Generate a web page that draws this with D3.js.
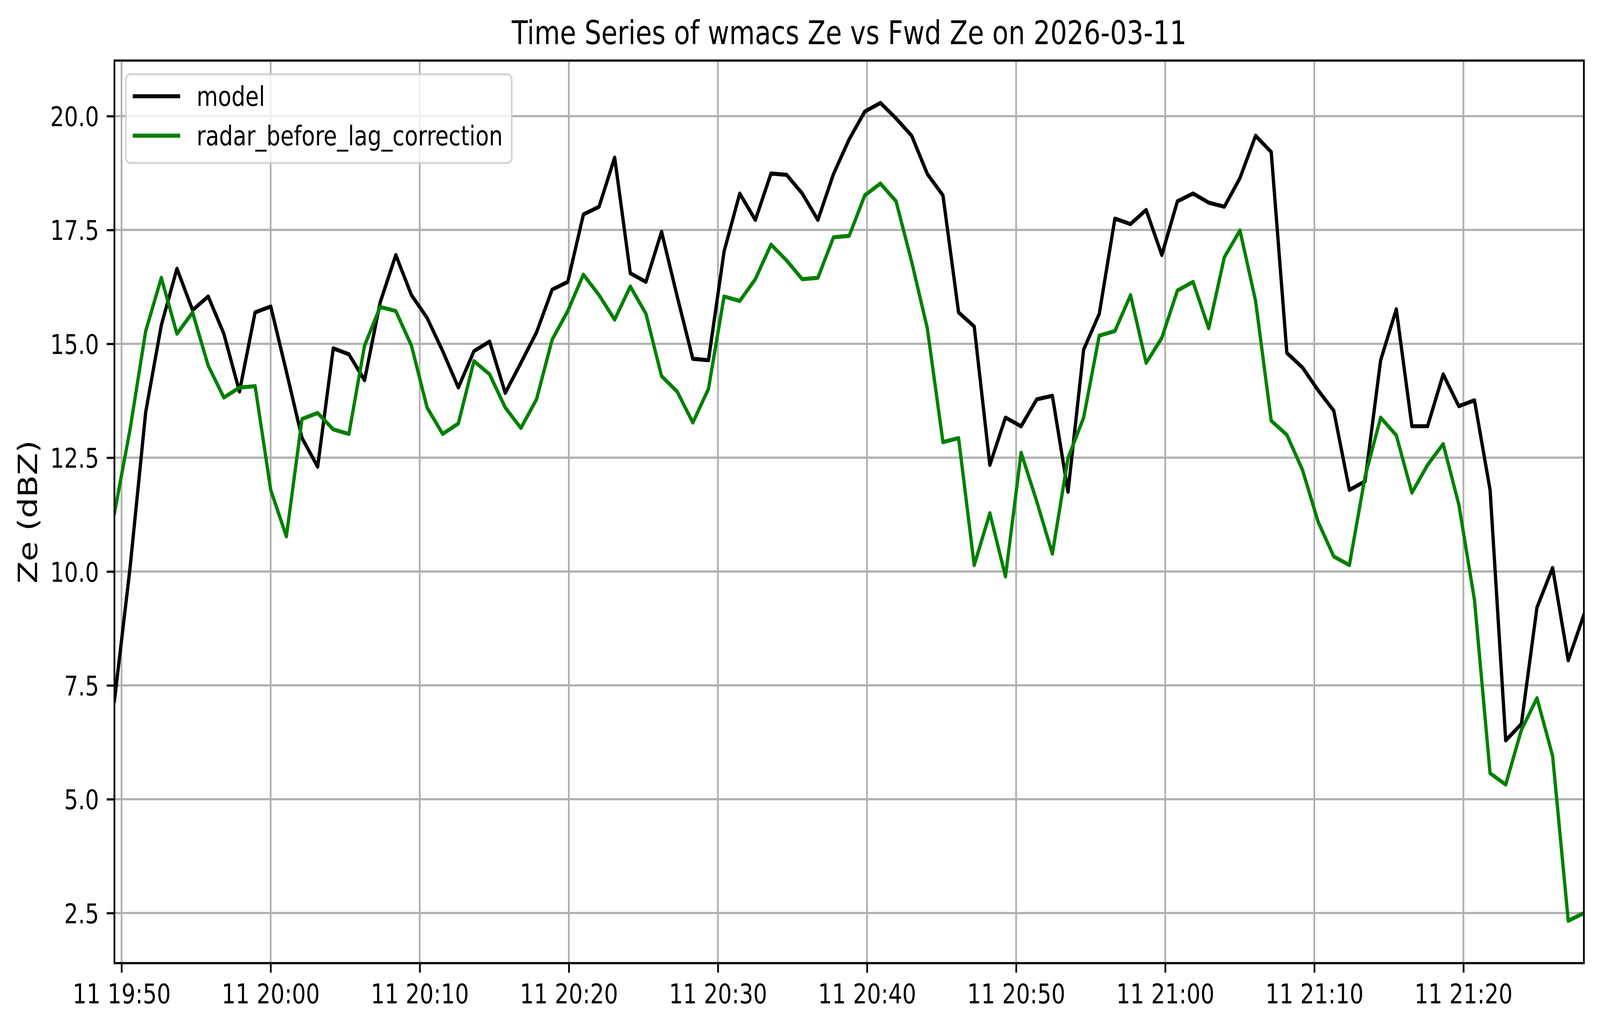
<!DOCTYPE html>
<html>
<head>
<meta charset="utf-8">
<script src="https://cdn.jsdelivr.net/npm/d3@7/dist/d3.min.js"></script>
<style>
  html, body { margin: 0; padding: 0; background: #ffffff; overflow: hidden; width: 100vw; height: 100vh; }
  svg { display: block; width: 100vw; height: 100vh; }
  text { font-family: "DejaVu Sans", sans-serif; fill: #000; }
</style>
</head>
<body>
<script>
// ---------------- DATA ----------------
const chartTitle = "Time Series of wmacs Ze vs Fwd Ze on 2026-03-11";
const yLabel = "Ze (dBZ)";
const seriesNames = ["model", "radar_before_lag_correction"];
const seriesColors = ["#000000", "#008000"];

// sampling: first and last timestamp of the record (UTC, 2026-03-11), evenly sampled
const firstTime = "2026-03-11T19:49:31.4Z";
const lastTime  = "2026-03-11T21:28:04.8Z";

const modelZe = [
  7.16, 10.08, 13.50, 15.41, 16.65, 15.74, 16.04, 15.22, 13.95, 15.69, 15.82, 14.39, 12.93, 12.30, 14.90, 14.77,
  14.20, 15.91, 16.95, 16.07, 15.57, 14.84, 14.04, 14.84, 15.05, 13.92, 14.58, 15.25, 16.19, 16.36, 17.84, 18.01,
  19.09, 16.55, 16.36, 17.46, 16.04, 14.67, 14.64, 17.03, 18.30, 17.72, 18.74, 18.71, 18.30, 17.72, 18.73,
  19.49, 20.10, 20.29, 19.95, 19.57, 18.73, 18.26, 15.69, 15.38, 12.34, 13.38, 13.19, 13.78, 13.86, 11.75, 14.87,
  15.66, 17.75, 17.63, 17.94, 16.95, 18.13, 18.30, 18.10, 18.01, 18.64, 19.57, 19.21, 14.80, 14.48, 13.98,
  13.53, 11.79, 11.98, 14.64, 15.76, 13.19, 13.19, 14.33, 13.63, 13.76, 11.79, 6.29, 6.65, 9.21, 10.08, 8.05,
  9.05
];

const radarZe = [
  11.28, 13.12, 15.28, 16.45, 15.22, 15.69, 14.52, 13.82, 14.04, 14.07, 11.79, 10.77, 13.35, 13.48, 13.12, 13.02,
  14.96, 15.81, 15.72, 14.96, 13.60, 13.02, 13.25, 14.62, 14.33, 13.60, 13.15, 13.78, 15.09, 15.72, 16.52, 16.07,
  15.53, 16.26, 15.66, 14.29, 13.95, 13.27, 14.01, 16.04, 15.94, 16.42, 17.18, 16.83, 16.42, 16.45, 17.34,
  17.37, 18.26, 18.52, 18.13, 16.80, 15.34, 12.84, 12.93, 10.14, 11.28, 9.89, 12.61, 11.54, 10.39, 12.49, 13.38,
  15.18, 15.28, 16.07, 14.58, 15.13, 16.17, 16.36, 15.34, 16.90, 17.49, 15.94, 13.31, 13.00, 12.23, 11.09,
  10.33, 10.14, 12.08, 13.38, 12.99, 11.73, 12.34, 12.80, 11.47, 9.38, 5.57, 5.32, 6.52, 7.22, 5.95, 2.33,
  2.50
];

const yTicks = [2.5, 5.0, 7.5, 10.0, 12.5, 15.0, 17.5, 20.0];
const yTickLabels = ["2.5", "5.0", "7.5", "10.0", "12.5", "15.0", "17.5", "20.0"];
const xTickTimes = ["2026-03-11T19:50:00Z", "2026-03-11T20:00:00Z", "2026-03-11T20:10:00Z", "2026-03-11T20:20:00Z",
                    "2026-03-11T20:30:00Z", "2026-03-11T20:40:00Z", "2026-03-11T20:50:00Z", "2026-03-11T21:00:00Z",
                    "2026-03-11T21:10:00Z", "2026-03-11T21:20:00Z"];
const xTickLabels = ["11 19:50", "11 20:00", "11 20:10", "11 20:20", "11 20:30",
                     "11 20:40", "11 20:50", "11 21:00", "11 21:10", "11 21:20"];
const yDomain = [1.40, 21.22];

// ---------------- LAYOUT ----------------
const W = 5062, H = 2631;
const plot = { left: 362, right: 5011, top: 155, bottom: 2465 };
const PT = 500 / 72;            // px per point (figure at 500 dpi)
const fs = 10 * PT;             // 10pt
const fsBig = 12 * PT;          // 12pt
const lineW = 1.5 * PT;
const thinW = 0.8 * PT;
const tickLen = 3.5 * PT;
const tickPad = 3.5 * PT;

const t0 = new Date(firstTime), t1 = new Date(lastTime);
const n = modelZe.length;
const times = d3.range(n).map(i => new Date(+t0 + (t1 - t0) * i / (n - 1)));

const x = d3.scaleUtc().domain([t0, t1]).range([plot.left, plot.right]);
const y = d3.scaleLinear().domain(yDomain).range([plot.bottom, plot.top]);

const svg = d3.select("body").append("svg")
  .attr("viewBox", `0 0 ${W} ${H}`)
  .attr("preserveAspectRatio", "none");
svg.append("rect").attr("width", W).attr("height", H).attr("fill", "#fff");

const defs = svg.append("defs");
defs.append("clipPath").attr("id", "plotclip").append("rect")
  .attr("x", plot.left).attr("y", plot.top)
  .attr("width", plot.right - plot.left).attr("height", plot.bottom - plot.top);

// grid
const xTicksD = xTickTimes.map(s => new Date(s));
const grid = svg.append("g").attr("clip-path", "url(#plotclip)");
grid.selectAll("line.gx").data(xTicksD).enter().append("line")
  .attr("x1", d => x(d)).attr("x2", d => x(d))
  .attr("y1", plot.top).attr("y2", plot.bottom)
  .attr("stroke", "#b0b0b0").attr("stroke-width", thinW);
grid.selectAll("line.gy").data(yTicks).enter().append("line")
  .attr("x1", plot.left).attr("x2", plot.right)
  .attr("y1", d => y(d)).attr("y2", d => y(d))
  .attr("stroke", "#b0b0b0").attr("stroke-width", thinW);

// lines
const lineGen = d3.line().x((d, i) => x(times[i])).y(d => y(d));
const lines = svg.append("g").attr("clip-path", "url(#plotclip)");
[modelZe, radarZe].forEach((vals, k) => {
  lines.append("path").datum(vals)
    .attr("d", lineGen)
    .attr("fill", "none")
    .attr("stroke", seriesColors[k])
    .attr("stroke-width", lineW)
    .attr("stroke-linejoin", "round")
    .attr("stroke-linecap", "square");
});

// axes
const xAxis = d3.axisBottom(x).tickValues(xTicksD)
  .tickFormat((d, i) => xTickLabels[i]).tickSizeOuter(0).tickSize(tickLen).tickPadding(tickPad);
const gx = svg.append("g").attr("transform", `translate(0,${plot.bottom})`).call(xAxis);
gx.select(".domain").remove();
gx.selectAll(".tick line").attr("stroke", "#000").attr("stroke-width", thinW);
gx.selectAll(".tick text").attr("font-size", fs).attr("font-family", "DejaVu Sans")
  .attr("fill", "#000").attr("y", null).attr("dy", null)
  .attr("transform", "translate(0,102.7)");

const yAxis = d3.axisLeft(y).tickValues(yTicks)
  .tickFormat((d, i) => yTickLabels[i]).tickSizeOuter(0).tickSize(tickLen).tickPadding(tickPad);
const gy = svg.append("g").attr("transform", `translate(${plot.left},0)`).call(yAxis);
gy.select(".domain").remove();
gy.selectAll(".tick line").attr("stroke", "#000").attr("stroke-width", thinW);
gy.selectAll(".tick text").attr("font-size", fs).attr("font-family", "DejaVu Sans")
  .attr("fill", "#000").attr("dy", "0.365em");

// spines
svg.append("rect")
  .attr("x", plot.left).attr("y", plot.top)
  .attr("width", plot.right - plot.left).attr("height", plot.bottom - plot.top)
  .attr("fill", "none").attr("stroke", "#000").attr("stroke-width", thinW)
  .attr("stroke-linejoin", "miter");

// title
svg.append("text")
  .attr("x", (plot.left + plot.right) / 2).attr("y", 113)
  .attr("text-anchor", "middle").attr("font-size", fsBig)
  .text(chartTitle);

// y label
svg.append("text")
  .attr("transform", `translate(117,${(plot.top + plot.bottom) / 2}) rotate(-90)`)
  .attr("text-anchor", "middle").attr("font-size", fsBig)
  .text(yLabel);

// legend
const leg = svg.append("g");
leg.append("rect")
  .attr("x", 398).attr("y", 190).attr("width", 1221).attr("height", 227)
  .attr("rx", 14).attr("ry", 14)
  .attr("fill", "#ffffff").attr("fill-opacity", 0.8)
  .attr("stroke", "#cccccc").attr("stroke-opacity", 0.8).attr("stroke-width", thinW);
const legRows = [246.4, 347.3];
seriesNames.forEach((name, k) => {
  leg.append("line")
    .attr("x1", 420).attr("x2", 570)
    .attr("y1", legRows[k]).attr("y2", legRows[k])
    .attr("stroke", seriesColors[k]).attr("stroke-width", lineW)
    .attr("stroke-linecap", "butt");
  leg.append("text")
    .attr("x", 622).attr("y", legRows[k] + 25)
    .attr("font-size", fs)
    .text(name);
});
</script>
</body>
</html>
